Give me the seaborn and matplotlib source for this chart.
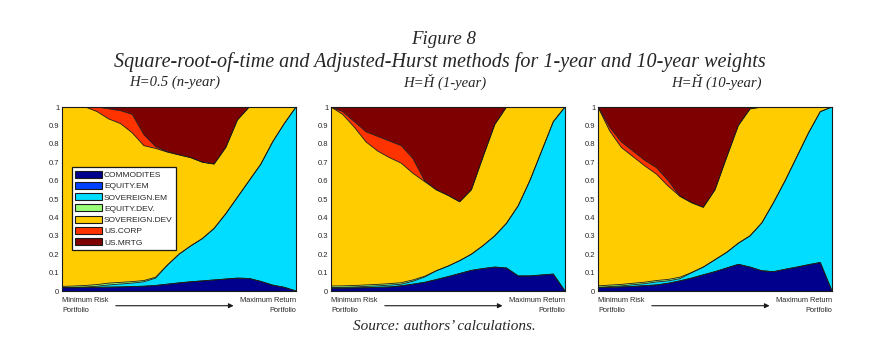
import numpy as np
import seaborn as sns
import matplotlib.pyplot as plt
from matplotlib.patches import Patch

sns.set_theme(style="white")
plt.rcParams['font.family'] = ['Liberation Sans', 'DejaVu Sans']

assets = ['COMMODITES', 'EQUITY.EM', 'SOVEREIGN.EM', 'EQUITY.DEV.',
          'SOVEREIGN.DEV', 'US.CORP', 'US.MRTG']
asset_colors = ['#00008C', '#0040FF', '#00DDFF', '#99FF77',
                '#FFCC00', '#FF3300', '#7F0000']

panel_titles = ['H=0.5 (n-year)', 'H=\u021e (1-year)', 'H=\u021e (10-year)']
ytick_vals = [0, 0.1, 0.2, 0.3, 0.4, 0.5, 0.6, 0.7, 0.8, 0.9, 1]
ytick_labels = ['0', '0.1', '0.2', '0.3', '0.4', '0.5', '0.6', '0.7', '0.8', '0.9', '1']

# portfolios along the frontier (min risk -> max return)
portfolio = list(range(1, 22))

# cumulative top of each asset band
# panel 1: H=0.5
p1_commod = [0.018, 0.018, 0.019, 0.02, 0.021, 0.022, 0.024, 0.026, 0.03, 0.037, 0.044,
             0.05, 0.055, 0.06, 0.065, 0.07, 0.068, 0.052, 0.032, 0.02, 0.0]
p1_equity_em = p1_commod  # no allocation
p1_sov_em = [0.019, 0.02, 0.022, 0.026, 0.033, 0.038, 0.043, 0.05, 0.07, 0.14, 0.2,
             0.245, 0.285, 0.34, 0.42, 0.51, 0.6, 0.69, 0.81, 0.91, 1.0]
p1_equity_dev = [0.025, 0.027, 0.03, 0.035, 0.043, 0.047, 0.051, 0.057, 0.075, 0.14, 0.2,
                 0.245, 0.285, 0.34, 0.42, 0.51, 0.6, 0.69, 0.81, 0.91, 1.0]
p1_sov_dev = [1.0, 1.0, 1.0, 0.975, 0.935, 0.91, 0.86, 0.79, 0.775, 0.755, 0.74,
              0.725, 0.70, 0.69, 0.78, 0.93, 1.0, 1.0, 1.0, 1.0, 1.0]
p1_us_corp = [1.0, 1.0, 1.0, 1.0, 0.99, 0.98, 0.96, 0.85, 0.785, 0.757, 0.74,
              0.725, 0.70, 0.69, 0.78, 0.93, 1.0, 1.0, 1.0, 1.0, 1.0]

# panel 2: H=H (1-year)
p2_commod = [0.015, 0.016, 0.017, 0.018, 0.02, 0.022, 0.028, 0.037, 0.047, 0.062, 0.078,
             0.095, 0.112, 0.122, 0.13, 0.125, 0.082, 0.082, 0.087, 0.092, 0.0]
p2_equity_em = p2_commod
p2_sov_em = [0.019, 0.02, 0.022, 0.025, 0.028, 0.032, 0.037, 0.053, 0.076, 0.11, 0.135,
             0.165, 0.2, 0.247, 0.3, 0.368, 0.463, 0.6, 0.76, 0.92, 1.0]
p2_equity_dev = [0.027, 0.028, 0.03, 0.033, 0.036, 0.04, 0.045, 0.06, 0.08, 0.11, 0.135,
                 0.165, 0.2, 0.247, 0.3, 0.368, 0.463, 0.6, 0.76, 0.92, 1.0]
p2_sov_dev = [1.0, 0.96, 0.89, 0.81, 0.76, 0.725, 0.695, 0.64, 0.595, 0.55, 0.52,
              0.485, 0.55, 0.73, 0.905, 1.0, 1.0, 1.0, 1.0, 1.0, 1.0]
p2_us_corp = [1.0, 0.975, 0.92, 0.865, 0.84, 0.815, 0.79, 0.72, 0.6, 0.55, 0.52,
              0.485, 0.55, 0.73, 0.905, 1.0, 1.0, 1.0, 1.0, 1.0, 1.0]

# panel 3: H=H (10-year)
p3_commod = [0.018, 0.02, 0.022, 0.025, 0.029, 0.033, 0.042, 0.055, 0.07, 0.088, 0.105,
             0.125, 0.145, 0.13, 0.11, 0.105, 0.118, 0.13, 0.143, 0.155, 0.0]
p3_equity_em = p3_commod
p3_sov_em = [0.02, 0.024, 0.028, 0.034, 0.04, 0.049, 0.055, 0.067, 0.1, 0.13, 0.17,
             0.21, 0.26, 0.3, 0.37, 0.48, 0.6, 0.73, 0.86, 0.975, 1.0]
p3_equity_dev = [0.028, 0.032, 0.036, 0.042, 0.048, 0.057, 0.063, 0.075, 0.1, 0.13, 0.17,
                 0.21, 0.26, 0.3, 0.37, 0.48, 0.6, 0.73, 0.86, 0.975, 1.0]
p3_sov_dev = [1.0, 0.87, 0.78, 0.73, 0.68, 0.635, 0.57, 0.515, 0.48, 0.455, 0.55,
              0.727, 0.9, 0.99, 1.0, 1.0, 1.0, 1.0, 1.0, 1.0, 1.0]
p3_us_corp = [1.0, 0.89, 0.81, 0.76, 0.71, 0.67, 0.60, 0.515, 0.48, 0.455, 0.55,
              0.727, 0.9, 0.99, 1.0, 1.0, 1.0, 1.0, 1.0, 1.0, 1.0]

panels = [
    [p1_commod, p1_equity_em, p1_sov_em, p1_equity_dev, p1_sov_dev, p1_us_corp],
    [p2_commod, p2_equity_em, p2_sov_em, p2_equity_dev, p2_sov_dev, p2_us_corp],
    [p3_commod, p3_equity_em, p3_sov_em, p3_equity_dev, p3_sov_dev, p3_us_corp],
]

fig = plt.figure(figsize=(8.74, 3.6), dpi=100)
ax_lefts = [62 / 874, 331 / 874, 598 / 874]
title_x = [0.48, 0.485, 0.505]
ax_w = 234 / 874
ax_b = (360 - 291) / 360
ax_h = 184 / 360

serif = ['Liberation Serif', 'DejaVu Serif']
x = np.array(portfolio)

for i, tops in enumerate(panels):
    ax = fig.add_axes([ax_lefts[i], ax_b, ax_w, ax_h])
    bounds = [np.zeros(len(x))] + [np.array(t) for t in tops] + [np.ones(len(x))]
    for k in range(len(assets)):
        ax.fill_between(x, bounds[k], bounds[k + 1], facecolor=asset_colors[k],
                        edgecolor='none', linewidth=0)
    for k in range(1, len(bounds) - 1):
        sns.lineplot(x=x, y=bounds[k], color='k', lw=0.6, ax=ax)

    ax.set_xlim(x[0], x[-1])
    ax.set_ylim(0, 1)
    ax.set_xticks([])
    ax.set_yticks(ytick_vals)
    ax.set_yticklabels(ytick_labels)
    ax.tick_params(axis='y', direction='in', length=2, width=0.5, labelsize=5.5,
                   pad=2, left=True)
    for sp in ax.spines.values():
        sp.set_color('k')
        sp.set_linewidth(0.8)
    ax.set_ylabel('')

    ax.text(title_x[i], 1.135, panel_titles[i], transform=ax.transAxes, ha='center',
            va='center', fontsize=10.6, style='italic', family=serif)

    ax.text(0.0, -0.035, 'Minimum Risk\nPortfolio', transform=ax.transAxes,
            ha='left', va='top', fontsize=5.3, linespacing=1.6)
    ax.text(1.0, -0.035, 'Maximum Return\nPortfolio', transform=ax.transAxes,
            ha='right', va='top', fontsize=5.3, linespacing=1.6,
            multialignment='right')
    ax.annotate('', xy=(0.745, -0.08), xytext=(0.218, -0.08),
                xycoords='axes fraction', textcoords='axes fraction',
                arrowprops=dict(arrowstyle='-|>', color='k', lw=0.8,
                                mutation_scale=7))

    if i == 0:
        handles = [Patch(facecolor=c, edgecolor='k', linewidth=0.8)
                   for c in asset_colors]
        leg = ax.legend(handles, assets, loc='upper left',
                        bbox_to_anchor=(0.041, 0.672), fontsize=6,
                        frameon=True, fancybox=False, framealpha=1,
                        edgecolor='k', handlelength=3.2, handleheight=0.9,
                        handletextpad=0.3, labelspacing=0.35,
                        borderpad=0.4, borderaxespad=0)
        leg.get_frame().set_linewidth(0.9)

fig.text(0.507, 1 - 40 / 360, 'Figure 8', ha='center', va='center',
         fontsize=13.6, style='italic', family=serif)
fig.text(0.503, 1 - 62 / 360,
         'Square-root-of-time and Adjusted-Hurst methods for 1-year and 10-year weights',
         ha='center', va='center', fontsize=14.5, style='italic', family=serif)
fig.text(0.509, 1 - 327 / 360, 'Source: authors\u2019 calculations.', ha='center',
         va='center', fontsize=11, style='italic', family=serif)

fig.savefig('out.png', dpi=100)
